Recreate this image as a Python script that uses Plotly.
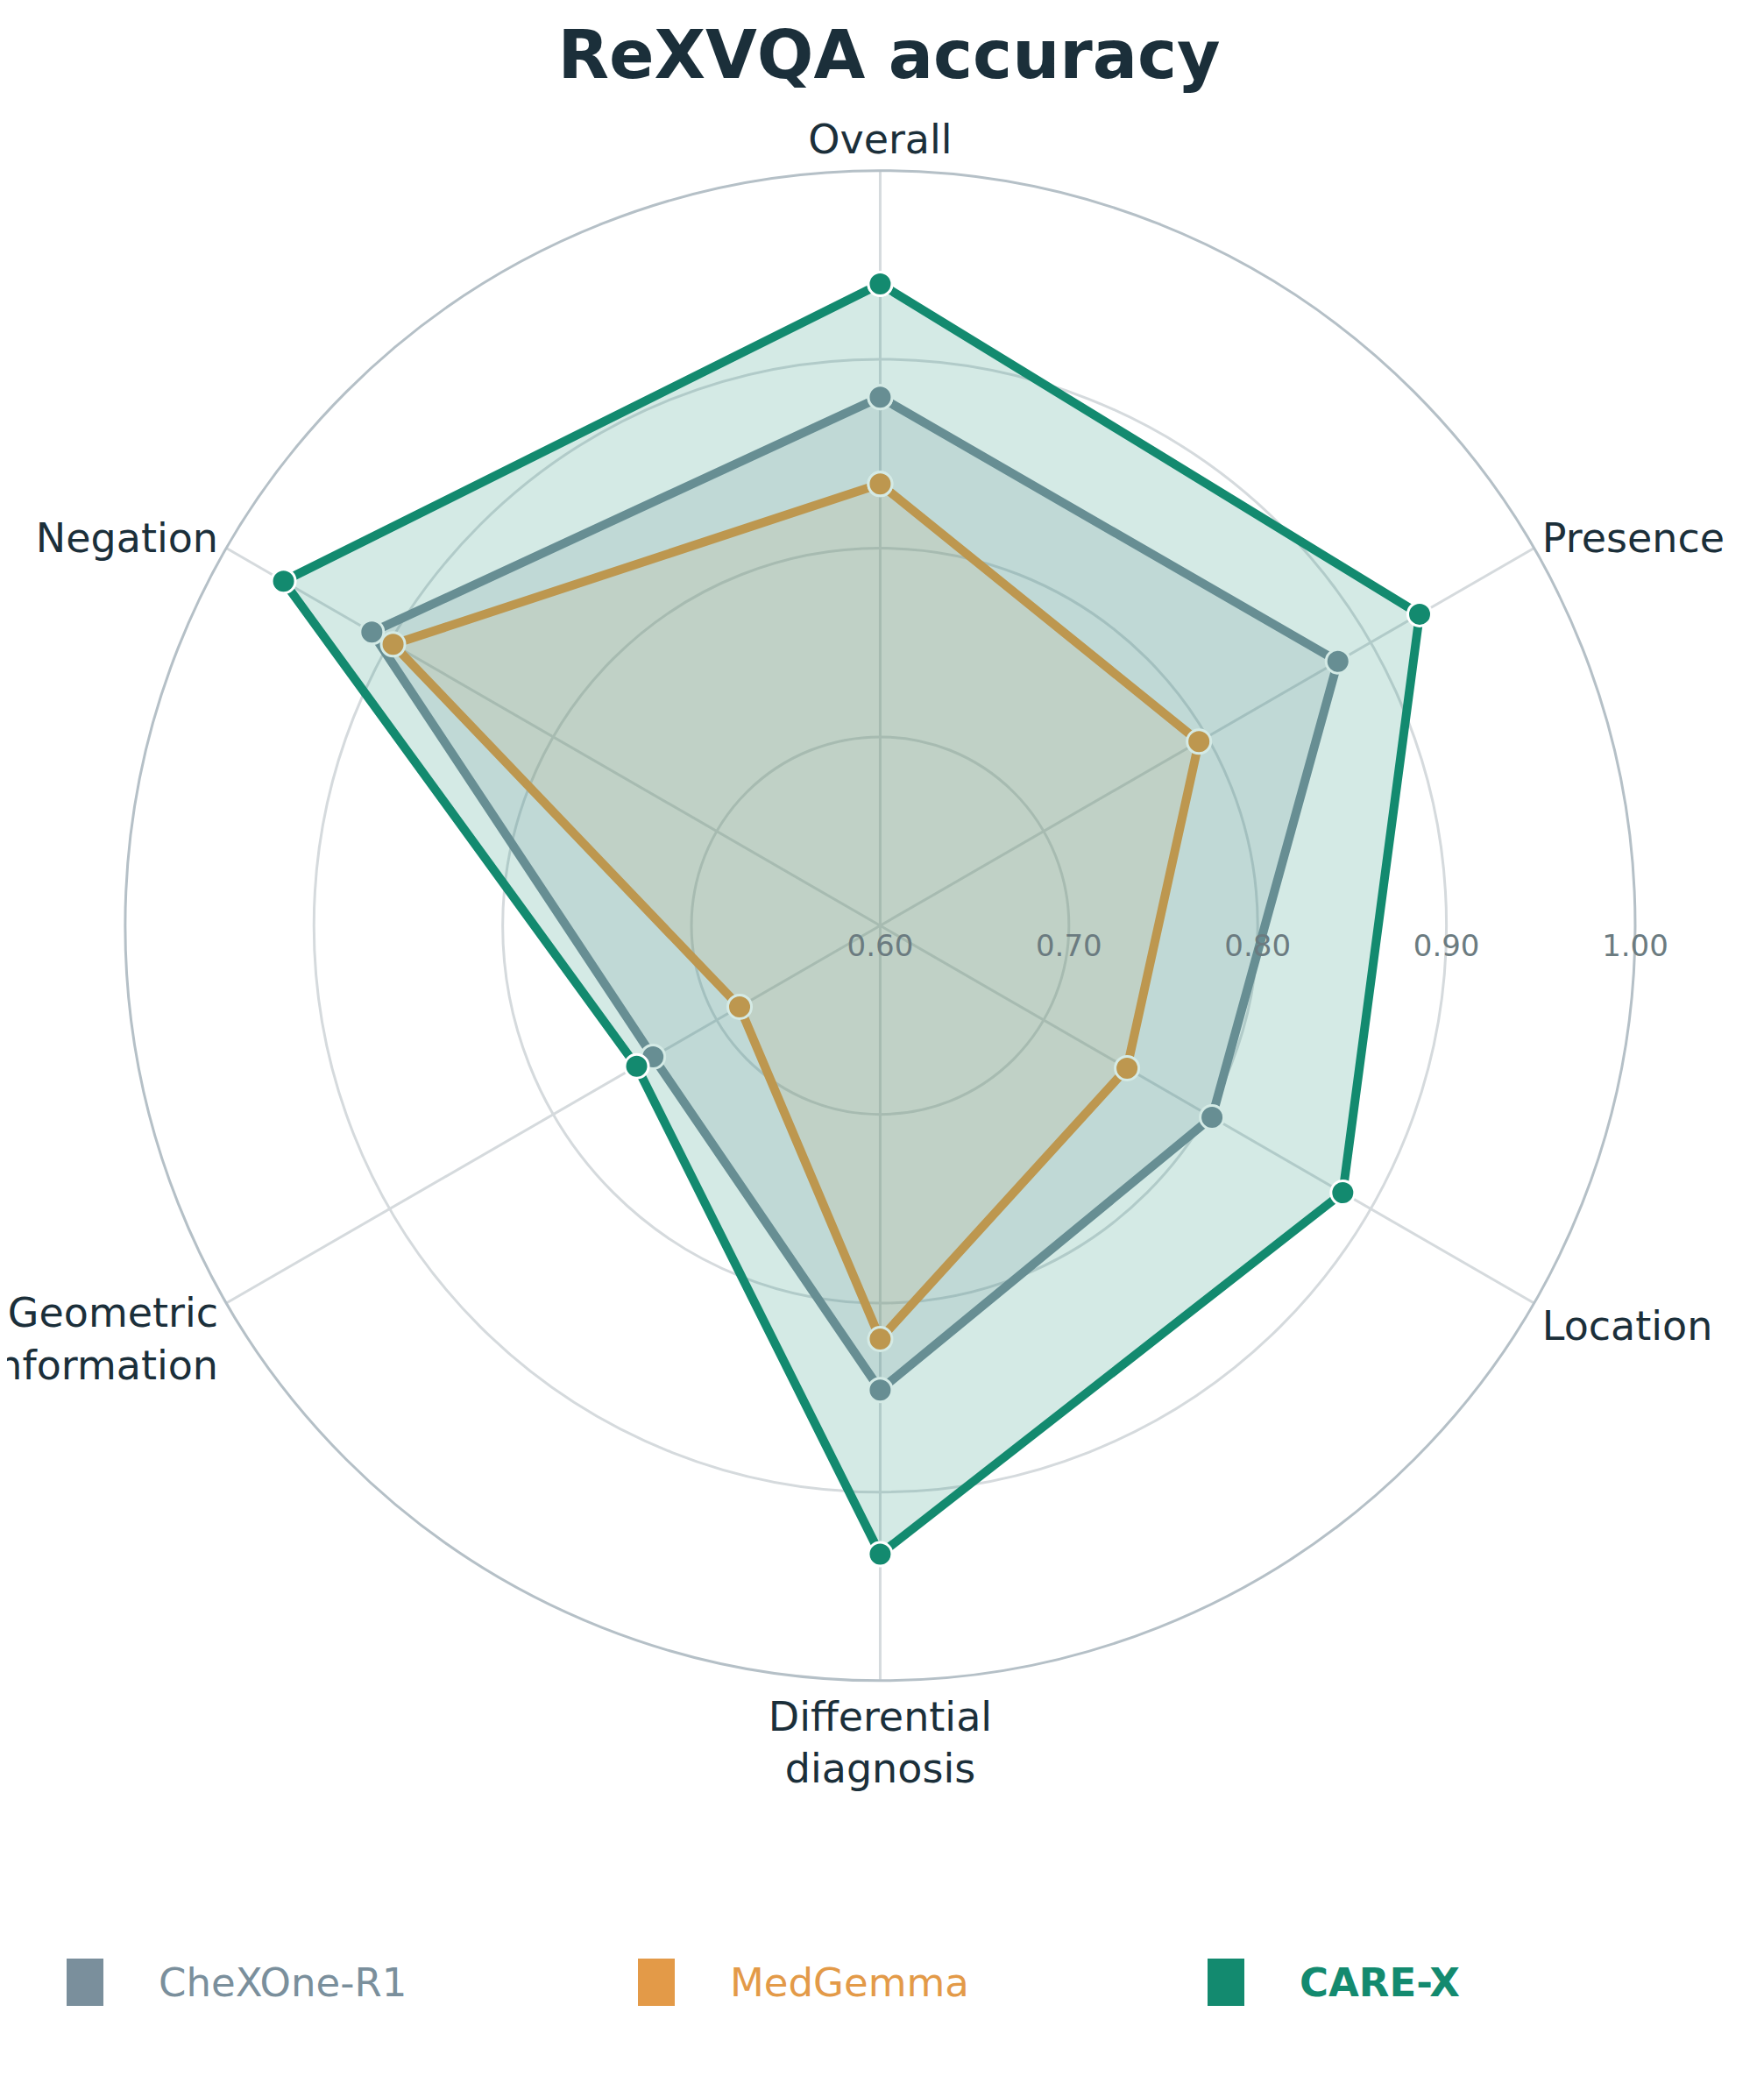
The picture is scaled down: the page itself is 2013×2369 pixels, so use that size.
import plotly.graph_objects as go

categories = ["Overall", "Presence", "Location", "Differential<br>diagnosis", "Geometric<br>information", "Negation"]
chexone = [0.880, 0.880, 0.803, 0.846, 0.739, 0.911]
medgemma = [0.834, 0.795, 0.751, 0.819, 0.686, 0.898]
carex = [0.940, 0.930, 0.883, 0.933, 0.749, 0.965]
tick_vals = [0.6, 0.7, 0.8, 0.9, 1.0]
tick_text = ["0.60", "0.70", "0.80", "0.90", "1.00"]

series = [
    ("CheXOne-R1", chexone, "#7a8f9c", "rgba(122,143,156,0.18)", False),
    ("MedGemma", medgemma, "#e39a48", "rgba(227,154,72,0.12)", False),
    ("CARE-X", carex, "#138a6f", "rgba(19,138,111,0.18)", True),
]

fig = go.Figure()
for name, vals, col, fillc, bold in series:
    fig.add_trace(go.Scatterpolar(
        r=vals + [vals[0]], theta=categories + [categories[0]],
        mode="lines+markers", fill="toself", fillcolor=fillc,
        line=dict(color=col, width=10),
        marker=dict(size=27, color=col, line=dict(color="white", width=3)),
        showlegend=False, hoverinfo="skip", name=name))

# legend drawn as squares + text
legend_x = [68, 720, 1370]
W, H = 2013, 2369
for (name, vals, col, fillc, bold), lx in zip(series, legend_x):
    fig.add_shape(type="rect", xref="paper", yref="paper",
                  x0=lx / W, x1=(lx + 42) / W, y0=1 - 2281 / H, y1=1 - 2227 / H,
                  fillcolor=col, line=dict(width=0))
    fig.add_annotation(xref="paper", yref="paper", x=(lx + 103) / W, y=1 - 2254 / H,
                       xanchor="left", yanchor="middle", showarrow=False,
                       text=f"<b>{name}</b>" if bold else name,
                       font=dict(size=45, color=col))

fig.update_layout(
    width=W, height=H, showlegend=False,
    paper_bgcolor="white", plot_bgcolor="white",
    margin=dict(l=0, r=0, t=0, b=0),
    font=dict(family="DejaVu Sans", color="#1b2f3a"),
    title=dict(text="<b>ReXVQA accuracy</b>", x=0.5, xanchor="center", y=0.977, yanchor="middle",
               font=dict(size=76, color="#1b2f3a")),
    polar=dict(
        domain=dict(x=[0.067, 0.923], y=[0.1935, 0.9215]),
        bgcolor="white",
        radialaxis=dict(range=[0.6, 1.0], tickvals=tick_vals, ticktext=tick_text, angle=0,
                        tickangle=0, showline=False, ticks="",
                        gridcolor="#d5dadd", gridwidth=2.5,
                        tickfont=dict(size=34, color="#6b7b80")),
        angularaxis=dict(direction="clockwise", rotation=90,
                         linecolor="#b5c0c7", linewidth=3,
                         gridcolor="#d5dadd", gridwidth=2.5, ticks="",
                         tickfont=dict(size=46, color="#1b2f3a")),
    ),
)
fig.write_html("out.html")
